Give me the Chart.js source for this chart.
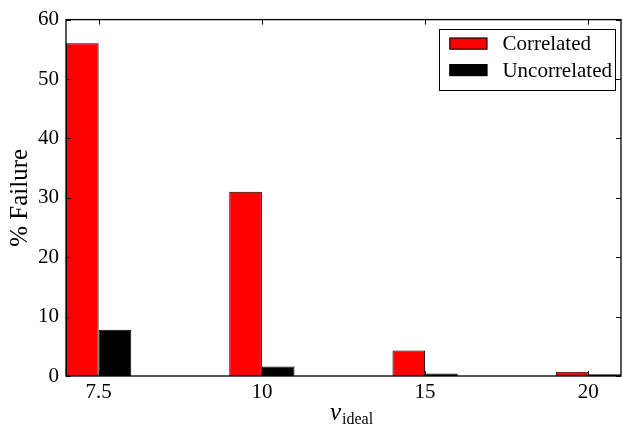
<!DOCTYPE html>
<html>
<head>
<meta charset="utf-8">
<script src="https://cdn.jsdelivr.net/npm/chart.js@4/dist/chart.umd.min.js"></script>
<style>
	html, body { margin: 0; padding: 0; background: #fff; }
	#wrap { width: 623px; height: 427px; }
</style>
</head>
<body>
<div id="wrap"><canvas id="myChart" width="623" height="427"></canvas></div>
<script>
/* values */
var categories = ['7.5', '10', '15', '20'];
var positions = [0, 1, 2, 3];
var correlated = [56, 31, 4.3, 0.7];
var uncorrelated = [7.8, 1.6, 0.4, 0.3];
var y_ticks = [0, 10, 20, 30, 40, 50, 60];

var serif = '"Liberation Serif", "DejaVu Serif", serif';

Chart.defaults.color = '#000';
Chart.defaults.font.family = serif;

/**
	Turn a list of values into {x, y} points on the category positions
*/
function toPoints(vals) {
	var pts = [];
	for (var i = 0; i < vals.length; i++)
		pts.push({ x: positions[i], y: vals[i] });
	return pts;
}

/*
	Frame with inward ticks on all four sides, like matplotlib classic
*/
var framePlugin = {
	id: 'frame',
	afterDatasetsDraw: function(chart) {
		var ctx = chart.ctx;
		var a = chart.chartArea;
		var xs = chart.scales.x;
		var ys = chart.scales.y;
		var len = 5;
		ctx.save();
		ctx.strokeStyle = '#000';
		ctx.lineWidth = 1;
		ctx.beginPath();
		for (var i = 0; i < positions.length; i++) {
			var px = Math.round(xs.getPixelForValue(positions[i])) + 0.5;
			ctx.moveTo(px, a.top); ctx.lineTo(px, a.top + len);
			ctx.moveTo(px, a.bottom); ctx.lineTo(px, a.bottom - len);
		}
		for (var j = 0; j < y_ticks.length; j++) {
			var py = Math.round(ys.getPixelForValue(y_ticks[j])) + 0.5;
			ctx.moveTo(a.left, py); ctx.lineTo(a.left + len, py);
			ctx.moveTo(a.right, py); ctx.lineTo(a.right - len, py);
		}
		ctx.stroke();
		ctx.lineWidth = 1.3;
		ctx.strokeRect(a.left, a.top, a.right - a.left, a.bottom - a.top);

		/* x axis label: nu with subscript "ideal" */
		ctx.fillStyle = '#000';
		ctx.textBaseline = 'alphabetic';
		ctx.font = 'italic 25px ' + serif;
		var w1 = ctx.measureText('\u03bd').width;
		ctx.font = '16px ' + serif;
		var w2 = ctx.measureText('ideal').width;
		var x0 = (a.left + a.right) / 2 + 8 - (w1 + w2 + 1) / 2;
		ctx.font = 'italic 25px ' + serif;
		ctx.fillText('\u03bd', x0, 420);
		ctx.font = '16px ' + serif;
		ctx.fillText('ideal', x0 + w1 + 1, 424);

		/* legend box, top right inside the plot */
		var ds = chart.data.datasets;
		ctx.font = '21px ' + serif;
		var tw = 0;
		for (var k = 0; k < ds.length; k++)
			tw = Math.max(tw, ctx.measureText(ds[k].label).width);
		var bw = 10 + 38 + 15 + tw + 3;
		var bx = a.right - 6 - bw;
		var by = a.top + 9;
		var bh = 61;
		ctx.fillStyle = '#fff';
		ctx.fillRect(bx, by, bw, bh);
		ctx.lineWidth = 1;
		ctx.strokeRect(Math.round(bx) + 0.5, Math.round(by) + 0.5, Math.round(bw), bh);
		ctx.textBaseline = 'middle';
		for (var m = 0; m < ds.length; m++) {
			var cy = by + 15 + m * 26.5;
			ctx.fillStyle = ds[m].backgroundColor;
			ctx.fillRect(bx + 10, cy - 6, 38, 12);
			ctx.strokeStyle = '#000';
			ctx.strokeRect(bx + 10.5, cy - 5.5, 37, 11);
			ctx.fillStyle = '#000';
			ctx.fillText(ds[m].label, bx + 10 + 38 + 15, cy + 1);
		}
		ctx.restore();
	}
};

var ctx = document.getElementById('myChart').getContext('2d');
var graph = new Chart(ctx, {
	type: 'bar',
	data: {
		datasets: [{
			label: 'Correlated',
			data: toPoints(correlated),
			backgroundColor: '#ff0000',
			borderColor: '#000',
			borderWidth: 1,
			borderSkipped: false
		}, {
			label: 'Uncorrelated',
			data: toPoints(uncorrelated),
			backgroundColor: '#000000',
			borderColor: '#000',
			borderWidth: 1,
			borderSkipped: false
		}]
	},
	options: {
		responsive: false,
		animation: false,
		categoryPercentage: 0.4,
		barPercentage: 1.0,
		layout: { padding: { top: 15, right: 2, left: 0, bottom: 0 } },
		plugins: {
			legend: { display: false },
			tooltip: { enabled: false }
		},
		scales: {
			x: {
				type: 'linear',
				offset: false,
				min: -0.2,
				max: 3.2,
				afterBuildTicks: function(scale) {
					scale.ticks = positions.map(function(v) { return { value: v }; });
				},
				afterFit: function(scale) { scale.height = 51; },
				grid: { display: false, drawTicks: false, offset: false },
				border: { display: false },
				ticks: {
					padding: 4,
					font: { size: 21 },
					callback: function(value, index) { return categories[index]; }
				}
			},
			y: {
				min: 0,
				max: 60,
				afterBuildTicks: function(scale) {
					scale.ticks = y_ticks.map(function(v) { return { value: v }; });
				},
				afterFit: function(scale) { scale.width = 66; },
				grid: { display: false, drawTicks: false },
				border: { display: false },
				ticks: { padding: 7, font: { size: 21 } },
				title: {
					display: true,
					text: '% Failure',
					font: { size: 25 },
					padding: { top: 5, bottom: 0 }
				}
			}
		}
	},
	plugins: [framePlugin]
});
</script>
</body>
</html>
